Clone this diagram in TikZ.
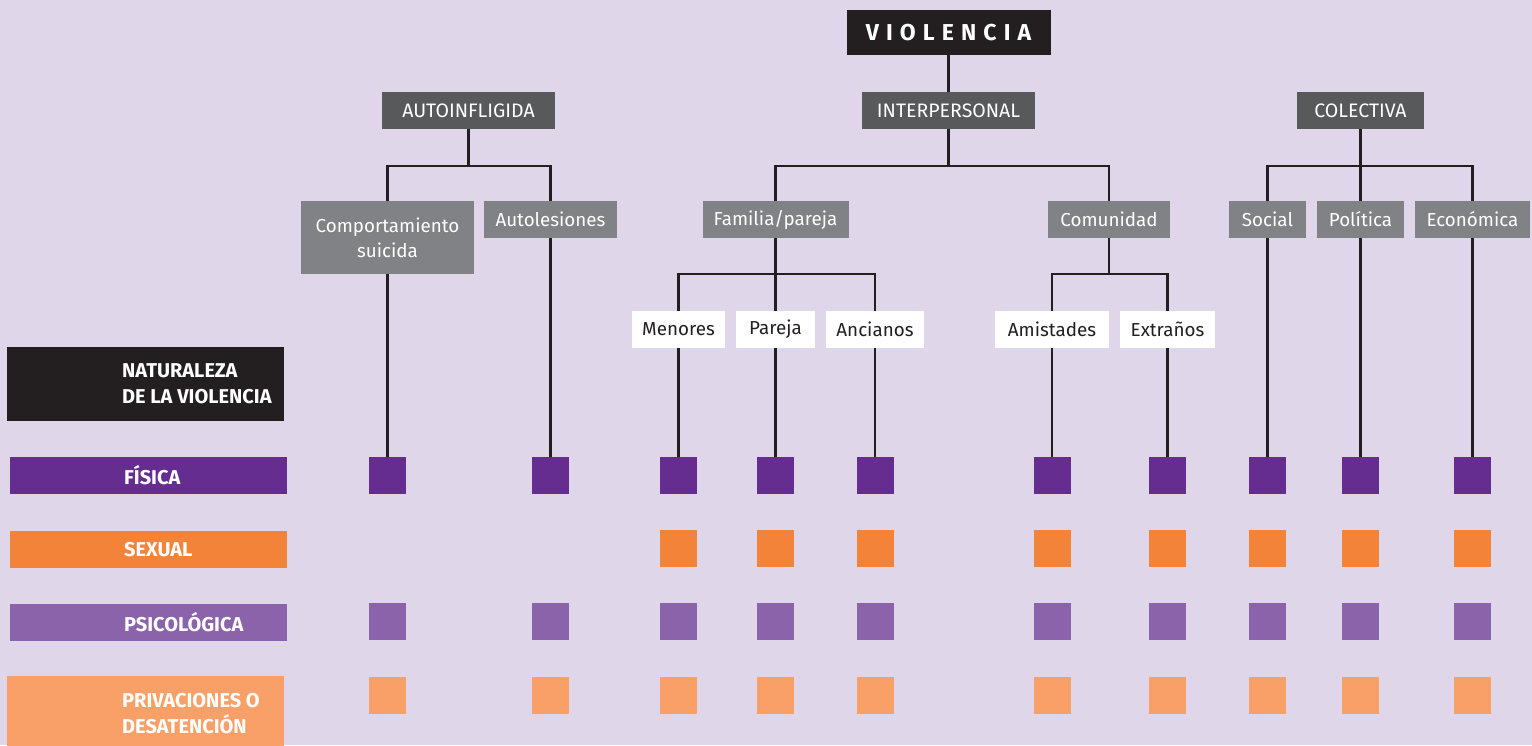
\documentclass[tikz,border=0pt]{standalone}
\usepackage{fontspec}
\setmainfont{Fira Sans}
\definecolor{bgc}{HTML}{DFD6E9}
\definecolor{blk}{HTML}{231F20}
\definecolor{dgray}{HTML}{58595B}
\definecolor{mgray}{HTML}{808285}
\definecolor{purp}{HTML}{662D91}
\definecolor{orng}{HTML}{F4833A}
\definecolor{lpurp}{HTML}{8A63AA}
\definecolor{lorng}{HTML}{F8A067}
\tikzset{
  base/.style={inner sep=0pt, outer sep=0pt, align=center, text=white},
  topbox/.style={base, fill=blk, font=\fontsize{23}{26}\selectfont\bfseries\addfontfeatures{LetterSpace=31}},
  catbox/.style={base, fill=dgray, minimum height=37pt, font=\fontsize{19.5}{22}\selectfont},
  subbox/.style={base, fill=mgray, minimum height=37pt, font=\fontsize{18.8}{25}\selectfont},
  leafbox/.style={base, fill=white, text=blk, minimum height=37pt, font=\fontsize{18.8}{22}\selectfont},
  sq/.style={inner sep=0pt, outer sep=0pt, minimum width=37pt, minimum height=37pt},
  lab/.style={inner sep=0pt, outer sep=0pt, anchor=north west},
  labtxt/.style={inner sep=0pt, anchor=west, align=left, text=white, font=\fontsize{20}{26}\selectfont\bfseries},
  conn/.style={draw=blk, line width=2.6pt}
}
\begin{document}
\begin{tikzpicture}[x=1pt,y=-1pt]
\fill[bgc] (0,0) rectangle (1532,745);
\useasboundingbox (0,0) rectangle (1532,745);

% top
\node[topbox, minimum width=204pt, minimum height=45pt] (V) at (948.5,32.5) {VIOLENCIA};
\node[catbox, minimum width=173pt] (AUTO) at (468.5,110.5) {AUTOINFLIGIDA};
\node[catbox, minimum width=173pt] (INTER) at (948.5,110.5) {INTERPERSONAL};
\node[catbox, minimum width=127pt] (COLE) at (1360.5,110.5) {COLECTIVA};

% second level
\node[subbox, minimum width=173pt, minimum height=73pt] (CS) at (387.5,237.5) {Comportamiento\\suicida};
\node[subbox, minimum width=133pt] (AL) at (550.5,219.5) {Autolesiones};
\node[subbox, minimum width=146pt] (FP) at (775.5,219.5) {Familia/pareja};
\node[subbox, minimum width=122pt] (CO) at (1109,219.5) {Comunidad};
\node[subbox, minimum width=77pt] (SO) at (1267.5,219.5) {Social};
\node[subbox, minimum width=87pt] (PO) at (1360.5,219.5) {Política};
\node[subbox, minimum width=115pt] (EC) at (1472.5,219.5) {Económica};

% third level
\node[leafbox, minimum width=93pt] (ME) at (678.5,329.5) {Menores};
\node[leafbox, minimum width=79pt] (PA) at (775.5,329.5) {Pareja};
\node[leafbox, minimum width=98pt] (AN) at (875,329.5) {Ancianos};
\node[leafbox, minimum width=114pt] (AM) at (1052,329.5) {Amistades};
\node[leafbox, minimum width=95pt] (EX) at (1167.5,329.5) {Extraños};

% junctions
\coordinate (j1) at (468.5,166);
\coordinate (j2) at (948.5,166);
\coordinate (j3) at (1360.5,166);
\coordinate (j4) at (775.5,274);
\coordinate (j5) at (1109,274);

% squares
\foreach \n/\x in {CS/387.5, AL/550.5, ME/678.5, PA/775.5, AN/875, AM/1052, EX/1167.5, SO/1267.5, PO/1360.5, EC/1472.5}{
  \node[sq, fill=purp] (f\n) at (\x,475.5) {};
  \node[sq, fill=lpurp] (p\n) at (\x,621.5) {};
  \node[sq, fill=lorng] (d\n) at (\x,695.5) {};
}
\foreach \n/\x in {ME/678.5, PA/775.5, AN/875, AM/1052, EX/1167.5, SO/1267.5, PO/1360.5, EC/1472.5}{
  \node[sq, fill=orng] (s\n) at (\x,548.5) {};
}

% connectors
\draw[conn] (V.south) -- (INTER.north);
\draw[conn] (AUTO.south) -- (j1);
\draw[conn] (CS.north) |- (j1) -| (AL.north);
\draw[conn] (INTER.south) -- (j2);
\draw[conn] (FP.north) |- (j2) -| (CO.north);
\draw[conn] (COLE.south) -- (j3);
\draw[conn] (SO.north) |- (j3) -| (EC.north);
\draw[conn] (j3) -- (PO.north);
\draw[conn] (FP.south) -- (j4);
\draw[conn] (ME.north) |- (j4) -| (AN.north);
\draw[conn] (j4) -- (PA.north);
\draw[conn] (CO.south) -- (j5);
\draw[conn] (AM.north) |- (j5) -| (EX.north);
\foreach \n in {CS, AL, ME, PA, AN, AM, EX, SO, PO, EC}{
  \draw[conn] (\n.south) -- (f\n.north);
}

% left legend
\node[lab, fill=blk, minimum width=277pt, minimum height=74pt] (nat) at (7,347) {};
\node[labtxt] (natt) at (122,384) {NATURALEZA\\DE LA VIOLENCIA};
\node[lab, fill=purp, minimum width=277pt, minimum height=37pt] (fis) at (10,457) {};
\node[labtxt] (fist) at (124,475.5) {FÍSICA};
\node[lab, fill=orng, minimum width=277pt, minimum height=37pt] (sex) at (10,531) {};
\node[labtxt] (sext) at (124,549.5) {SEXUAL};
\node[lab, fill=lpurp, minimum width=277pt, minimum height=37pt] (psi) at (10,604) {};
\node[labtxt] (psit) at (124,622.5) {PSICOLÓGICA};
\node[lab, fill=lorng, minimum width=277pt, minimum height=75pt] (pri) at (7,676) {};
\node[labtxt] (prit) at (122,714) {PRIVACIONES O\\DESATENCIÓN};
\end{tikzpicture}
\end{document}
